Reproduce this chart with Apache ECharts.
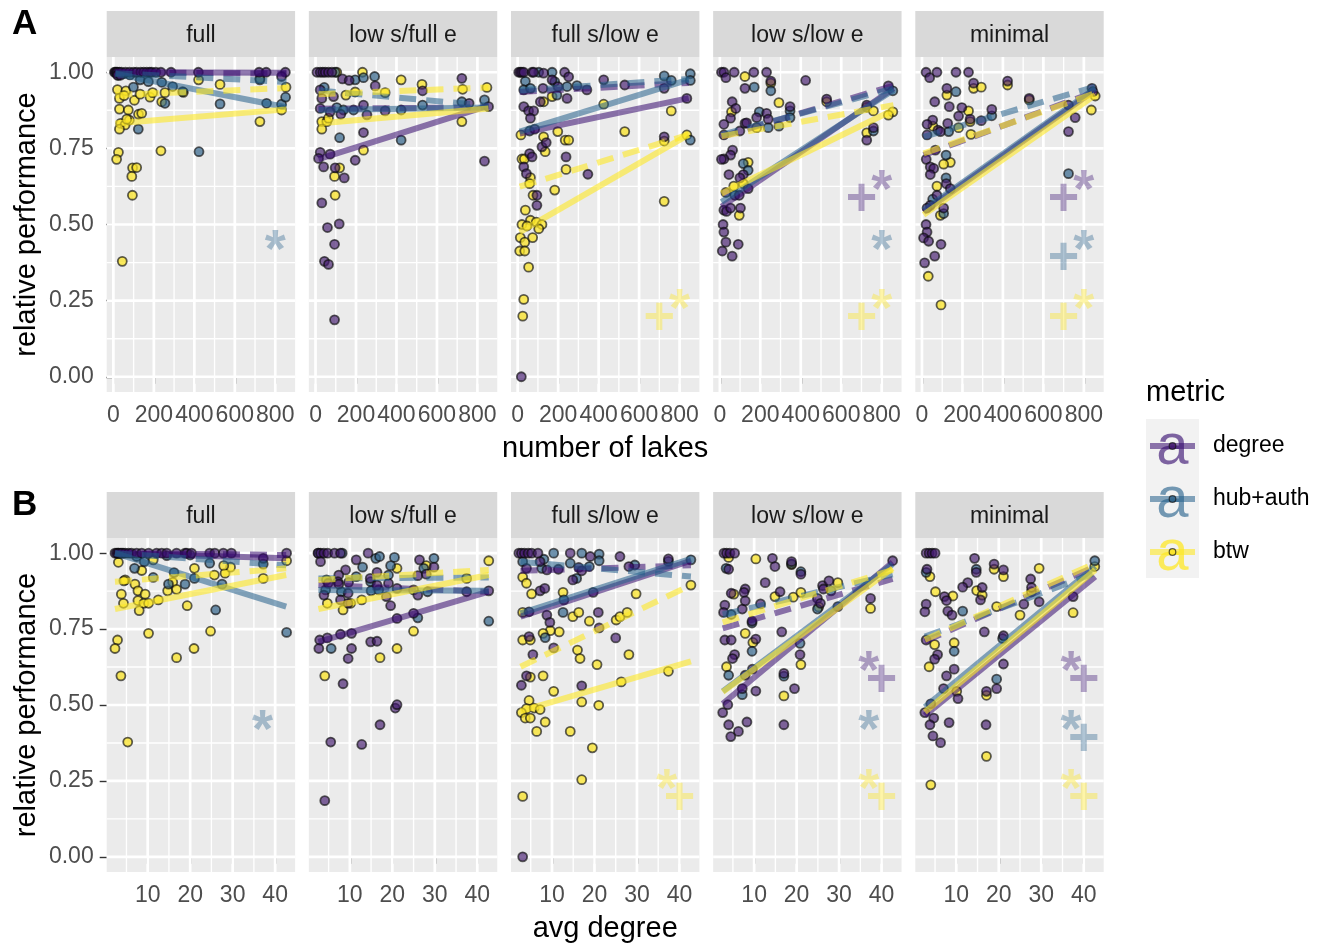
<!DOCTYPE html>
<html><head><meta charset="utf-8">
<script src="https://cdn.jsdelivr.net/npm/echarts@6/dist/echarts.min.js"></script>
<style>html,body{margin:0;padding:0;background:#fff}#c{width:1332px;height:946px}</style>
</head><body><div id="c"></div><script>
// ---------- data ----------
const panelNames = ['full', 'low s/full e', 'full s/low e', 'low s/low e', 'minimal'];
const metricNames = ['degree', 'hub+auth', 'btw'];
const xTicksA = [0, 200, 400, 600, 800];
const xMinorA = [100, 300, 500, 700];
const xTicksB = [10, 20, 30, 40];
const xMinorB = [5, 15, 25, 35];
const yTicks = [0, 0.25, 0.5, 0.75, 1];
const yMinor = [0.125, 0.375, 0.625, 0.875];

// Row A: x = number of lakes
const ptsA_degree = [
 [[5,1],[10,1],[15,1],[20,1],[30,1],[40,1],[60,1],[80,1],[100,1],[115,1],[135,1],[150,1],[165,1],[180,1],[190,1],[210,1],[235,1],[285,1],[420,1],[720,1],[755,1],[850,1],[831,0.986],[20,0.99],[35,0.99]],
 [[7,1],[23,1],[36,1],[48,1],[64,1],[81,1],[133,0.978],[166,0.973],[295,0.955],[529,0.939],[723,0.98],[759,0.898],[855,0.887],[835,0.708],[344,0.873],[237,0.802],[196,0.711],[23,0.942],[31,0.914],[89,0.92],[254,0.86],[237,0.892],[125,0.862],[23,0.737],[15,0.717],[40,0.689],[72,0.731],[97,0.686],[142,0.653],[31,0.571],[59,0.49],[117,0.502],[94,0.435],[44,0.379],[64,0.369],[94,0.187],[23,0.881],[72,0.87]],
 [[5,1],[13,1],[21,1],[30,1],[71,1],[79,1],[232,1],[252,0.985],[128,0.997],[170,0.975],[199,0.953],[425,0.975],[529,0.958],[724,0.947],[342,0.942],[125,0.947],[30,0.887],[54,0.873],[79,0.873],[112,0.903],[63,0.849],[244,0.914],[836,0.914],[724,0.788],[84,0.813],[120,0.755],[141,0.769],[59,0.733],[71,0.722],[30,0.689],[43,0.667],[239,0.722],[347,0.665],[95,0.596],[95,0.563],[18,0]],
 [[8,1],[20,1],[30,0.982],[71,1],[124,0.947],[168,1],[231,1],[252,0.971],[424,0.973],[528,0.912],[347,0.887],[726,0.892],[833,0.955],[759,0.818],[726,0.777],[61,0.903],[79,0.881],[53,0.849],[20,0.829],[20,0.794],[99,0.807],[124,0.832],[132,0.834],[182,0.851],[231,0.865],[239,0.846],[63,0.744],[53,0.728],[20,0.715],[8,0.714],[45,0.664],[116,0.664],[99,0.653],[140,0.618],[30,0.605],[96,0.596],[20,0.547],[33,0.543],[53,0.554],[102,0.554],[16,0.5],[20,0.475],[30,0.442],[91,0.435],[12,0.413],[61,0.396]],
 [[20,1],[38,0.982],[74,1],[168,1],[230,1],[123,0.947],[255,0.964],[423,0.971],[530,0.914],[63,0.903],[135,0.887],[197,0.884],[181,0.856],[238,0.846],[293,0.841],[345,0.878],[53,0.843],[25,0.829],[25,0.794],[79,0.81],[91,0.805],[127,0.832],[724,0.892],[757,0.851],[724,0.805],[840,0.947],[845,0.936],[66,0.744],[21,0.714],[41,0.689],[58,0.684],[41,0.664],[120,0.634],[140,0.618],[74,0.596],[41,0.563],[25,0.554],[107,0.554],[20,0.5],[25,0.475],[8,0.456],[33,0.445],[94,0.435],[63,0.396],[13,0.374]]
];
const ptsA_hub = [
 [[99,0.951],[132,0.975],[173,0.969],[239,0.967],[255,0.898],[293,0.953],[342,0.936],[423,0.739],[527,0.896],[724,0.975],[757,0.898],[831,0.895],[851,0.918],[123,0.813],[82,0.991],[50,0.995],[25,0.99]],
 [[97,1],[196,0.975],[237,0.982],[292,0.986],[723,0.903],[835,0.909],[529,0.892],[423,0.876],[423,0.777],[119,0.785],[43,0.95],[105,0.884],[138,0.876],[188,0.876]],
 [[104,1],[170,1],[38,0.97],[183,0.969],[724,0.988],[759,0.973],[853,0.995],[853,0.973],[293,0.956],[244,0.953],[194,0.925],[30,0.942],[63,0.947],[853,0.777],[59,0.807]],
 [[170,0.951],[252,0.939],[347,0.873],[347,0.851],[855,0.939],[759,0.807],[195,0.87],[239,0.818],[292,0.823],[116,0.7],[140,0.678],[74,0.596]],
 [[168,0.936],[345,0.857],[132,0.805],[724,0.667],[119,0.728],[119,0.653],[53,0.583],[107,0.536]]
];
const ptsA_btw = [
 [[20,0.943],[62,0.939],[30,0.914],[53,0.923],[104,0.908],[132,0.928],[181,0.918],[194,0.933],[239,0.903],[255,0.933],[346,0.934],[421,0.975],[527,0.96],[724,0.98],[853,0.951],[831,0.876],[724,0.838],[30,0.879],[74,0.876],[124,0.862],[140,0.865],[36,0.832],[58,0.827],[79,0.843],[66,0.846],[30,0.813],[25,0.737],[16,0.714],[95,0.686],[115,0.687],[91,0.658],[94,0.596],[44,0.379],[235,0.742]],
 [[105,1],[232,1],[423,0.975],[526,0.96],[727,0.944],[723,0.838],[847,0.95],[344,0.933],[237,0.744],[150,0.925],[196,0.935],[31,0.838],[56,0.838],[31,0.813],[64,0.849],[119,0.686],[94,0.658],[97,0.596]],
 [[170,0.92],[128,0.903],[425,0.895],[759,0.873],[836,0.794],[724,0.774],[529,0.805],[198,0.805],[235,0.777],[252,0.777],[16,0.794],[128,0.788],[136,0.739],[21,0.715],[33,0.715],[63,0.654],[59,0.634],[239,0.681],[183,0.613],[76,0.596],[724,0.576],[38,0.547],[21,0.5],[63,0.514],[92,0.508],[120,0.5],[104,0.486],[46,0.495],[13,0.457],[35,0.442],[74,0.457],[10,0.413],[35,0.413],[54,0.36],[30,0.254],[25,0.199]],
 [[124,0.986],[252,0.964],[528,0.903],[292,0.9],[726,0.885],[855,0.87],[833,0.859],[759,0.873],[726,0.801],[58,0.87],[182,0.818],[140,0.704],[69,0.626],[116,0.634],[96,0.53]],
 [[123,0.925],[255,0.947],[293,0.951],[423,0.958],[530,0.909],[230,0.873],[238,0.838],[54,0.823],[181,0.818],[242,0.796],[856,0.922],[837,0.876],[140,0.704],[107,0.698],[74,0.626],[91,0.53],[31,0.33],[94,0.236]]
];
// fitted lines [x0, y0, x1, y1] per panel
const solidA_degree = [[10,1.0,855,0.998],[15,0.715,855,0.89],[10,0.799,845,0.915],[8,0.558,858,0.947],[8,0.541,856,0.942]];
const solidA_hub    = [[10,0.995,855,0.885],[15,0.876,855,0.884],[10,0.805,845,0.976],[8,0.574,858,0.942],[8,0.547,856,0.947]];
const solidA_btw    = [[10,0.832,855,0.878],[15,0.832,855,0.881],[10,0.475,845,0.795],[8,0.602,858,0.876],[8,0.532,856,0.925]];
const dashA_degree  = [[10,1.0,855,0.995],[15,0.88,855,0.885],[10,0.935,845,0.965],[8,0.788,858,0.956],[8,0.728,856,0.936]];
const dashA_hub     = [[10,0.997,855,0.968],[15,0.94,855,0.89],[10,0.94,845,0.978],[8,0.794,858,0.947],[8,0.788,856,0.953]];
const dashA_btw     = [[10,0.925,855,0.948],[15,0.928,855,0.95],[10,0.624,845,0.795],[8,0.79,858,0.892],[8,0.733,856,0.931]];
// annotations [panel, metric index, x, y]
const plusA = [[2,2,700,0.19],[3,0,700,0.58],[3,2,700,0.19],[4,0,700,0.58],[4,1,700,0.385],[4,2,700,0.19]];
const starA = [[0,1,800,0.41],[2,2,800,0.215],[3,0,800,0.605],[3,1,800,0.41],[3,2,800,0.215],[4,0,800,0.605],[4,1,800,0.41],[4,2,800,0.215]];

// Row B: x = avg degree
const ptsB_degree = [
 [[2.3,1],[2.7,1],[3.1,1],[3.5,1],[3.9,1],[4.7,1],[5.5,1],[6.2,1],[7.4,1],[8.6,1],[10.2,1],[12.1,1],[13.3,1],[14.5,1],[16.8,1],[18.8,1],[19.2,1],[20.3,1],[24.6,1],[25.8,1],[27.8,1],[29.7,1],[37.2,0.983],[42.7,1]],
 [[2.5,1],[3.1,1],[3.9,1],[4.8,1],[6.4,1],[7.8,1],[14.3,1],[3.1,0.972],[11.5,0.978],[26.4,0.978],[29.8,0.954],[9,0.945],[16.4,0.937],[7.4,0.928],[7.2,0.906],[9.7,0.904],[14.8,0.917],[16.4,0.895],[19.1,0.901],[26,0.926],[28,0.931],[4.9,0.901],[3.9,0.862],[7.4,0.898],[9.6,0.868],[7.8,0.846],[9.6,0.835],[18.6,0.857],[19.6,0.827],[21.1,0.884],[26,0.862],[37.5,0.873],[42.7,0.876],[21.1,0.785],[25,0.802],[2.9,0.714],[4.7,0.721],[7.8,0.733],[10.4,0.736],[2.7,0.686],[10.4,0.686],[9.6,0.653],[14.9,0.708],[16.4,0.71],[8.4,0.57],[20.7,0.49],[21.1,0.501],[17.1,0.435],[5.5,0.378],[12.8,0.37],[4.1,0.185]],
 [[2.2,1],[2.8,1],[3.5,1],[4.4,1],[5.2,1],[6.7,1],[14.3,1],[19,0.989],[26,0.989],[28.1,0.956],[37.4,0.981],[4,0.95],[7.2,0.972],[8.8,0.945],[11.5,0.947],[16.3,0.953],[17,0.942],[14.9,0.912],[7.2,0.876],[8.3,0.884],[19.7,0.871],[4.6,0.807],[8.8,0.796],[9.5,0.772],[20.9,0.805],[21.1,0.754],[4.6,0.725],[10.4,0.688],[5.5,0.666],[25,0.721],[4,0.596],[2.8,0.565],[17,0.563],[3.1,0]],
 [[2.9,1],[3.5,1],[4.3,1],[5.4,1],[4,0.947],[14.3,0.983],[14.9,0.956],[18.8,0.972],[21,0.931],[12.6,0.903],[4.6,0.868],[7.9,0.882],[7.6,0.871],[16.1,0.873],[26.1,0.893],[26.3,0.882],[27.6,0.909],[24.9,0.851],[25.6,0.835],[29.7,0.824],[37.4,0.851],[42.6,0.975],[3.1,0.829],[2.8,0.805],[7.2,0.816],[7.9,0.843],[9.5,0.776],[11.5,0.833],[10.4,0.717],[3.1,0.714],[4.6,0.714],[5.4,0.666],[4.9,0.653],[7.9,0.598],[9.6,0.618],[16.5,0.741],[17,0.604],[19.5,0.554],[7.2,0.554],[10.4,0.546],[20.8,0.666],[3.8,0.501],[2.6,0.475],[4,0.435],[4.5,0.396],[6.3,0.413],[8.3,0.444],[17,0.435]],
 [[2.9,1],[3.6,1],[4.3,1],[5,1],[3.1,0.947],[14.3,0.983],[18.9,0.964],[14.7,0.937],[21.1,0.945],[12.7,0.903],[11.5,0.888],[16.1,0.887],[15.7,0.846],[7.2,0.857],[7.7,0.844],[2.9,0.832],[2.6,0.807],[8,0.809],[9,0.796],[27.5,0.915],[27.7,0.887],[29.5,0.84],[25.9,0.832],[21.1,0.728],[16.6,0.741],[37.5,0.857],[2.9,0.714],[5.6,0.666],[4.9,0.651],[9.5,0.618],[7.7,0.596],[19.5,0.554],[17.1,0.545],[21.1,0.635],[7,0.554],[10.4,0.521],[4,0.504],[2.6,0.475],[4.7,0.457],[3.8,0.435],[8.3,0.442],[4.5,0.398],[6.3,0.376],[17,0.435]]
];
const ptsB_hub = [
 [[3,1],[4.2,1],[7.4,0.989],[9.2,0.972],[6.9,0.95],[11.3,0.92],[14.9,0.898],[16.2,0.936],[18.8,0.898],[21,0.917],[24.6,0.967],[26,0.813],[27.5,0.898],[37.2,0.964],[42.7,0.739],[14.5,0.992],[20,0.994]],
 [[2.6,1],[8.2,1],[16.1,0.983],[17,0.989],[20.5,0.986],[29.8,0.983],[27.4,0.95],[13,0.954],[19.6,0.959],[11.5,0.923],[14.9,0.906],[19.1,0.928],[8,0.873],[15,0.876],[16.8,0.879],[28.3,0.873],[42.7,0.776],[26,0.787],[5.6,0.686],[4.3,0.879]],
 [[10.4,1],[17,1],[21.1,0.997],[21.1,0.975],[29.5,0.961],[37.4,0.973],[42.7,0.978],[3.1,0.972],[7.6,0.95],[8.1,0.98],[14.3,0.967],[15.8,0.917],[18.8,0.956],[12.8,0.846],[12.6,0.805],[8.4,0.722]],
 [[3.4,0.95],[21,0.939],[28.1,0.876],[24.9,0.816],[4.6,0.798],[9.5,0.77],[9.5,0.677],[4,0.598],[17,0.595],[7.2,0.534],[20.8,0.703],[18.8,0.965]],
 [[2.9,0.937],[14.7,0.947],[11.5,0.809],[20.9,0.719],[42.6,0.975],[9.5,0.677],[19.5,0.585]]
];
const ptsB_btw = [
 [[3.1,0.97],[4.7,0.912],[4.4,0.909],[7,0.898],[8.6,0.943],[7.7,0.876],[3.8,0.865],[9.4,0.865],[7.7,0.844],[4.3,0.835],[9.1,0.835],[10.2,0.835],[8,0.811],[12.5,0.846],[14.7,0.876],[15.9,0.904],[16.8,0.881],[19.3,0.827],[21,0.95],[25.7,0.928],[28.2,0.934],[29.5,0.954],[27.9,0.959],[37.2,0.917],[42.7,0.975],[11.3,0.978],[10.2,0.736],[2.9,0.714],[2.3,0.686],[16.8,0.656],[20.9,0.686],[24.8,0.743],[3.7,0.596],[5.3,0.378]],
 [[28,0.959],[42.7,0.975],[21.1,0.95],[37.5,0.917],[4.5,0.912],[10.2,0.835],[8.4,0.813],[4.7,0.835],[12.8,0.846],[25,0.879],[25,0.743],[21.1,0.686],[17.1,0.656],[4.1,0.596]],
 [[3.1,0.921],[4,0.901],[5.2,0.866],[12.6,0.871],[29.8,0.866],[3.1,0.805],[11.7,0.741],[14.9,0.791],[16.3,0.805],[18.8,0.776],[25.1,0.78],[26,0.791],[27.7,0.805],[9.6,0.745],[7.9,0.736],[3.1,0.714],[4.9,0.714],[16,0.681],[16.6,0.653],[28.1,0.666],[20.6,0.633],[37.4,0.611],[26.3,0.576],[4.9,0.592],[7.9,0.596],[10.4,0.545],[17,0.51],[21,0.499],[4.6,0.515],[4,0.488],[5.8,0.49],[7.2,0.485],[2.8,0.475],[3.7,0.457],[4.9,0.457],[8.4,0.444],[6.4,0.413],[14.3,0.413],[19.5,0.359],[17,0.254],[3.1,0.199],[42.7,0.895]],
 [[4,0.986],[10.4,0.981],[18.8,0.962],[5.2,0.865],[14.9,0.857],[19.2,0.855],[21,0.871],[29.7,0.903],[37.4,0.818],[25.2,0.823],[7.9,0.736],[9.7,0.706],[3.5,0.626],[17,0.53],[21,0.633]],
 [[3.8,0.923],[18.9,0.947],[21.1,0.923],[29.5,0.95],[14.8,0.877],[16.1,0.862],[5.1,0.873],[9.2,0.859],[27.7,0.873],[25,0.796],[19.5,0.824],[42.6,0.956],[37.5,0.804],[4.9,0.699],[9.5,0.705],[3.6,0.626],[17.1,0.532],[10.1,0.545],[17.1,0.331],[4,0.237]]
];
const solidB_degree = [[2.3,1.0,42.6,0.983],[2.6,0.708,42.7,0.873],[2.6,0.791,42.7,0.975],[2.6,0.504,42.6,0.97],[2.6,0.466,42.7,0.923]];
const solidB_hub    = [[2.3,1.0,42.6,0.824],[2.6,0.879,42.7,0.876],[2.6,0.802,42.7,0.981],[2.6,0.545,42.6,0.964],[2.6,0.493,42.7,0.956]];
const solidB_btw    = [[2.3,0.816,42.6,0.928],[2.6,0.816,42.7,0.928],[2.6,0.48,42.7,0.644],[2.6,0.543,42.6,0.95],[2.6,0.477,42.7,0.945]];
const dashB_degree  = [[2.3,1.0,42.6,0.994],[2.6,0.895,42.7,0.873],[2.6,0.942,42.7,0.96],[2.6,0.752,42.6,0.915],[2.6,0.71,42.7,0.956]];
const dashB_hub     = [[2.3,1.0,42.6,0.96],[2.6,0.917,42.7,0.92],[2.6,0.972,42.7,0.923],[2.6,0.798,42.6,0.93],[2.6,0.725,42.7,0.935]];
const dashB_btw     = [[2.3,0.906,42.6,0.95],[2.6,0.912,42.7,0.945],[2.6,0.626,42.7,0.895],[2.6,0.772,42.6,0.945],[2.6,0.715,42.7,0.967]];
const plusB = [[2,2,40,0.19],[3,0,40,0.58],[3,2,40,0.19],[4,0,40,0.58],[4,1,40,0.385],[4,2,40,0.19]];
const starB = [[0,1,37,0.41],[2,2,37,0.215],[3,0,37,0.605],[3,1,37,0.41],[3,2,37,0.215],[4,0,37,0.605],[4,1,37,0.41],[4,2,37,0.215]];

// ---------- styling ----------
const FONT = '"Liberation Sans", Arial, Helvetica, sans-serif';
const PCOL = ['rgba(66,24,108,0.82)', 'rgba(50,100,138,0.88)', 'rgba(250,228,42,0.95)'];
const LCOL = ['rgba(52,10,110,0.55)', 'rgba(35,95,138,0.55)', 'rgba(253,231,37,0.6)'];
const TCOL = ['rgba(52,10,110,0.45)', 'rgba(35,95,138,0.45)', 'rgba(253,231,37,0.5)'];
const KCOL = ['rgba(52,10,110,0.62)', 'rgba(35,95,138,0.62)', 'rgba(253,231,37,0.75)'];
const L0 = 106.7, STEP = 202.15, PW = 188.4, STRIP = 46;

const rows = [
  {top: 57, height: 335, xmin: -33, xmax: 898, ticks: xTicksA, minor: xMinorA,
   pts: [ptsA_degree, ptsA_hub, ptsA_btw], solid: [solidA_degree, solidA_hub, solidA_btw],
   dash: [dashA_degree, dashA_hub, dashA_btw], plus: plusA, star: starA, xname: 'number of lakes', tag: 'A'},
  {top: 538, height: 334, xmin: 0.35, xmax: 44.7, ticks: xTicksB, minor: xMinorB,
   pts: [ptsB_degree, ptsB_hub, ptsB_btw], solid: [solidB_degree, solidB_hub, solidB_btw],
   dash: [dashB_degree, dashB_hub, dashB_btw], plus: plusB, star: starB, xname: 'avg degree', tag: 'B'}
];

const grids = [], xAxes = [], yAxes = [], series = [], graphics = [];

function gridRender(xmin, xmax) {
  return function (params, api) {
    const o = api.value(0), v = api.value(1), m = api.value(2);
    let p1, p2;
    if (o === 0) { p1 = api.coord([v, -0.05]); p2 = api.coord([v, 1.05]); }
    else { p1 = api.coord([xmin, v]); p2 = api.coord([xmax, v]); }
    return {type: 'line', shape: {x1: p1[0], y1: p1[1], x2: p2[0], y2: p2[1]},
            style: {stroke: '#FFFFFF', lineWidth: m ? 2.7 : 1.35}};
  };
}

rows.forEach((R, r) => {
  for (let c = 0; c < 5; c++) {
    const gi = r * 5 + c;
    const left = L0 + c * STEP;
    grids.push({left: left, top: R.top, width: PW, height: R.height, show: true,
                backgroundColor: '#EBEBEB', borderWidth: 0, containLabel: false});
    xAxes.push({gridIndex: gi, type: 'value', min: R.xmin, max: R.xmax,
      axisLine: {show: false}, splitLine: {show: false},
      axisTick: {show: true, length: 7, lineStyle: {color: '#333333', width: 1.4}, customValues: R.ticks},
      axisLabel: {customValues: R.ticks, color: '#4D4D4D', fontSize: 23, fontFamily: FONT, margin: 12,
                  formatter: v => String(v)},
      name: c === 2 ? R.xname : '', nameLocation: 'middle', nameGap: 42,
      nameTextStyle: {fontSize: 29, color: '#000000', fontFamily: FONT}});
    yAxes.push({gridIndex: gi, type: 'value', min: -0.05, max: 1.05,
      axisLine: {show: false}, splitLine: {show: false},
      axisTick: {show: c === 0, length: 7, lineStyle: {color: '#333333', width: 1.4}, customValues: yTicks},
      axisLabel: {show: c === 0, customValues: yTicks, color: '#4D4D4D', fontSize: 23, fontFamily: FONT,
                  margin: 13, formatter: v => v.toFixed(2)}});
    // grid lines
    const gl = [];
    R.ticks.forEach(v => gl.push([0, v, 1]));
    R.minor.forEach(v => gl.push([0, v, 0]));
    yTicks.forEach(v => gl.push([1, v, 1]));
    yMinor.forEach(v => gl.push([1, v, 0]));
    series.push({type: 'custom', xAxisIndex: gi, yAxisIndex: gi, data: gl, silent: true, z: 1,
                 renderItem: gridRender(R.xmin, R.xmax)});
    // points: btw first, then hub, then degree on top
    [2, 1, 0].forEach(m => {
      series.push({type: 'scatter', xAxisIndex: gi, yAxisIndex: gi, data: R.pts[m][c], symbolSize: 9,
        itemStyle: {color: PCOL[m], borderColor: 'rgba(10,10,10,0.82)', borderWidth: 1.8},
        silent: true, z: 2});
    });
    // fitted lines
    [0, 1, 2].forEach(m => {
      [['solid', R.solid], ['dash', R.dash]].forEach(([kind, arr]) => {
        const s = arr[m][c];
        series.push({type: 'line', xAxisIndex: gi, yAxisIndex: gi, data: [[s[0], s[1]], [s[2], s[3]]],
          symbol: 'none', silent: true, z: 3,
          lineStyle: {color: LCOL[m], width: 6, type: kind === 'solid' ? 'solid' : [17, 10], cap: 'butt'}});
      });
    });
    // text annotations
    const ann = [];
    R.plus.filter(a => a[0] === c).forEach(a => ann.push({value: [a[2], a[3]], label: {formatter: '+', color: TCOL[a[1]]}}));
    R.star.filter(a => a[0] === c).forEach(a => ann.push({value: [a[2], a[3]], label: {formatter: '*', color: TCOL[a[1]]}}));
    if (ann.length) {
      series.push({type: 'scatter', xAxisIndex: gi, yAxisIndex: gi, data: ann, symbolSize: 1,
        itemStyle: {color: 'rgba(0,0,0,0)'}, silent: true, z: 4,
        label: {show: true, position: 'inside', fontSize: 54, fontWeight: 'bold', fontFamily: FONT}});
    }
    // strip
    graphics.push({type: 'rect', shape: {x: left, y: R.top - STRIP, width: PW, height: STRIP},
                   style: {fill: '#D9D9D9'}, silent: true});
    graphics.push({type: 'text', x: left + PW / 2, y: R.top - STRIP / 2 + 2,
                   style: {text: panelNames[c], fill: '#1A1A1A', fontSize: 23, fontFamily: FONT,
                           align: 'center', verticalAlign: 'middle'}, silent: true});
  }
  // y title
  graphics.push({type: 'text', x: 27, y: R.top + R.height / 2, rotation: Math.PI / 2,
                 style: {text: 'relative performance', fill: '#000', fontSize: 29, fontFamily: FONT,
                         align: 'center', verticalAlign: 'middle'}, silent: true});
  // tag
  graphics.push({type: 'text', x: 12, y: R.top - STRIP + 13,
                 style: {text: R.tag, fill: '#000', fontSize: 35, fontWeight: 'bold', fontFamily: FONT,
                         align: 'left', verticalAlign: 'middle'}, silent: true});
});

// legend
graphics.push({type: 'text', x: 1146, y: 393,
               style: {text: 'metric', fill: '#000', fontSize: 29, fontFamily: FONT, align: 'left', verticalAlign: 'middle'}, silent: true});
graphics.push({type: 'rect', shape: {x: 1146, y: 419, width: 53, height: 159}, style: {fill: '#F2F2F2'}, silent: true});
metricNames.forEach((name, m) => {
  const cy = 446 + m * 53;
  graphics.push({type: 'text', x: 1172.5, y: cy + 2, style: {text: 'a', fill: KCOL[m], fontSize: 58, fontFamily: FONT,
                 align: 'center', verticalAlign: 'middle'}, silent: true});
  graphics.push({type: 'line', shape: {x1: 1150, y1: cy, x2: 1195, y2: cy},
                 style: {stroke: LCOL[m], lineWidth: 6}, silent: true});
  graphics.push({type: 'circle', shape: {cx: 1172.5, cy: cy, r: 3.3},
                 style: {fill: PCOL[m], stroke: 'rgba(20,20,20,0.7)', lineWidth: 1.2}, silent: true});
  graphics.push({type: 'text', x: 1213, y: cy, style: {text: name, fill: '#000', fontSize: 23, fontFamily: FONT,
                 align: 'left', verticalAlign: 'middle'}, silent: true});
});

const chart = echarts.init(document.getElementById('c'), null, {renderer: 'canvas', width: 1332, height: 946});
chart.setOption({
  animation: false,
  backgroundColor: '#FFFFFF',
  grid: grids, xAxis: xAxes, yAxis: yAxes, series: series,
  graphic: {elements: graphics}
});
</script></body></html>
